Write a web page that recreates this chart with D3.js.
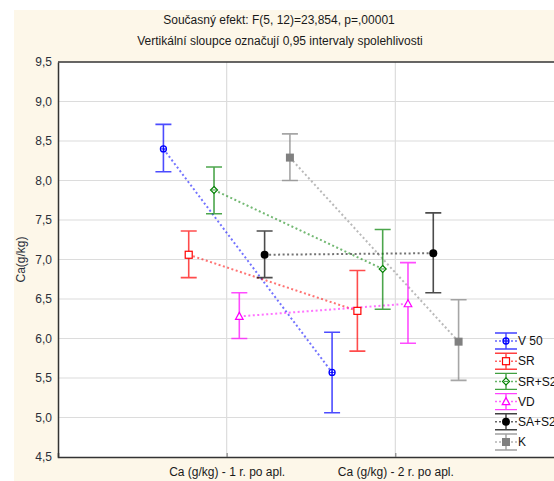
<!DOCTYPE html>
<html>
<head>
<meta charset="utf-8">
<script src="https://cdn.jsdelivr.net/npm/d3@7"></script>
<style>
  html, body { margin: 0; padding: 0; background: #ffffff; }
  svg { display: block; font-family: "Liberation Sans", Arial, sans-serif; }
</style>
</head>
<body>
<svg id="chart" width="554" height="481"></svg>
<script>
// Ca content (g/kg) one and two years after application, means with 95% CI
const categories = ["Ca (g/kg) - 1 r. po apl.", "Ca (g/kg) - 2 r. po apl."];
const seriesNames = ["V 50", "SR", "SR+S2", "VD", "SA+S2", "K"];
const meanValues = [
  [8.40, 5.57],
  [7.06, 6.35],
  [7.88, 6.88],
  [6.28, 6.44],
  [7.06, 7.08],
  [8.29, 5.96]
];
const lowerValues = [
  [8.11, 5.06],
  [6.77, 5.84],
  [7.58, 6.37],
  [6.00, 5.94],
  [6.77, 6.58],
  [8.00, 5.47]
];
const upperValues = [
  [8.71, 6.08],
  [7.36, 6.86],
  [8.17, 7.38],
  [6.58, 6.96],
  [7.36, 7.59],
  [8.59, 6.49]
];
const yTicks = [4.5, 5.0, 5.5, 6.0, 6.5, 7.0, 7.5, 8.0, 8.5, 9.0, 9.5];
const titleLines = [
  "Současný efekt: F(5, 12)=23,854, p=,00001",
  "Vertikální sloupce označují 0,95 intervaly spolehlivosti"
];
const yTitle = "Ca(g/kg)";

const colors = ["#0000ff", "#ff0000", "#008000", "#ff00ff", "#000000", "#808080"];
const markerTypes = ["circleCross", "square", "diamond", "triangle", "dot", "filledSquare"];

const svg = d3.select("#chart");
const fmt = v => d3.format(".1f")(v).replace(".", ",");

// frame background
svg.append("rect").attr("x", 14).attr("y", 10).attr("width", 540).attr("height", 471)
  .attr("fill", "#fdf7e9");

const plot = { left: 58, right: 564, top: 62, bottom: 457 };
svg.append("rect").attr("x", plot.left).attr("y", plot.top)
  .attr("width", plot.right - plot.left).attr("height", plot.bottom - plot.top)
  .attr("fill", "#ffffff");

const x = d3.scalePoint().domain(categories).range([plot.left, plot.right]).padding(1);
const y = d3.scaleLinear().domain([4.5, 9.5]).range([plot.bottom, plot.top]);
const step = 25.3;
const xPos = (si, ci) => x(categories[ci]) + (si - 2.5) * step;

// grid
svg.append("g").selectAll("line").data(yTicks.slice(1, -1)).join("line")
  .attr("x1", plot.left).attr("x2", plot.right)
  .attr("y1", d => y(d)).attr("y2", d => y(d))
  .attr("stroke", "#dcdcdc").attr("stroke-width", 1.2);
svg.append("g").selectAll("line").data(categories).join("line")
  .attr("x1", d => x(d)).attr("x2", d => x(d))
  .attr("y1", plot.top).attr("y2", plot.bottom)
  .attr("stroke", "#dcdcdc").attr("stroke-width", 1.2);

// axes
const yAxis = svg.append("g").attr("transform", `translate(${plot.left},0)`)
  .call(d3.axisLeft(y).tickValues(yTicks).tickFormat(fmt).tickSize(0).tickPadding(6));
yAxis.select(".domain").attr("stroke", "#333").attr("stroke-width", 1.5);
yAxis.selectAll("text").attr("font-size", 12).attr("fill", "#2a2f3a")
  .attr("font-family", "Liberation Sans, Arial, sans-serif");

const xAxis = svg.append("g").attr("transform", `translate(0,${plot.bottom})`)
  .call(d3.axisBottom(x).tickSize(-4).tickPadding(10));
xAxis.select(".domain").attr("stroke", "#333").attr("stroke-width", 1.5);
xAxis.selectAll(".tick line").attr("stroke", "#777");
xAxis.selectAll("text").attr("font-size", 12).attr("fill", "#1a1a1a")
  .attr("font-family", "Liberation Sans, Arial, sans-serif");

svg.append("line").attr("x1", plot.left).attr("x2", plot.right)
  .attr("y1", plot.top).attr("y2", plot.top).attr("stroke", "#333").attr("stroke-width", 1.5);

// titles
svg.append("text").attr("x", 279).attr("y", 24).attr("text-anchor", "middle")
  .attr("font-size", 12).attr("fill", "#1a1a1a").text(titleLines[0]);
svg.append("text").attr("x", 280).attr("y", 45).attr("text-anchor", "middle")
  .attr("font-size", 12).attr("fill", "#1a1a1a").text(titleLines[1]);
svg.append("text").attr("transform", `translate(25,${(plot.top + plot.bottom) / 2}) rotate(-90)`)
  .attr("text-anchor", "middle").attr("font-size", 12).attr("fill", "#2a2f3a").text(yTitle);

function drawMarker(g, type, color, cx, cy) {
  if (type === "circleCross") {
    g.append("circle").attr("cx", cx).attr("cy", cy).attr("r", 3)
      .attr("fill", "none").attr("stroke", color).attr("stroke-width", 1.3);
    g.append("path").attr("d", `M${cx - 3},${cy}H${cx + 3}M${cx},${cy - 3}V${cy + 3}`)
      .attr("stroke", color).attr("stroke-width", 0.8);
  } else if (type === "square") {
    g.append("rect").attr("x", cx - 3.5).attr("y", cy - 3.5).attr("width", 7).attr("height", 7)
      .attr("fill", "#fff").attr("stroke", color).attr("stroke-width", 1.2);
  } else if (type === "diamond") {
    g.append("path").attr("d", `M${cx},${cy - 3.5}L${cx + 3.5},${cy}L${cx},${cy + 3.5}L${cx - 3.5},${cy}Z`)
      .attr("fill", "#fff").attr("stroke", color).attr("stroke-width", 1.2);
    g.append("path").attr("d", `M${cx - 2},${cy}H${cx + 2}`).attr("stroke", color).attr("stroke-width", 0.8);
  } else if (type === "triangle") {
    g.append("path").attr("d", `M${cx},${cy - 4}L${cx + 3.8},${cy + 3}L${cx - 3.8},${cy + 3}Z`)
      .attr("fill", "#fff").attr("stroke", color).attr("stroke-width", 1.2);
  } else if (type === "dot") {
    g.append("circle").attr("cx", cx).attr("cy", cy).attr("r", 4).attr("fill", color);
  } else if (type === "filledSquare") {
    g.append("rect").attr("x", cx - 4).attr("y", cy - 4).attr("width", 8).attr("height", 8)
      .attr("fill", color);
  }
}

// connecting dotted lines
seriesNames.forEach((name, si) => {
  const line = d3.line().x((d, ci) => xPos(si, ci)).y(d => y(d));
  svg.append("path").datum(meanValues[si]).attr("d", line)
    .attr("fill", "none").attr("stroke", colors[si]).attr("stroke-opacity", 0.55)
    .attr("stroke-width", 2).attr("stroke-dasharray", "2,2.5");
});

// error bars and markers
seriesNames.forEach((name, si) => {
  const g = svg.append("g");
  categories.forEach((c, ci) => {
    const cx = xPos(si, ci);
    const yl = y(lowerValues[si][ci]), yu = y(upperValues[si][ci]);
    g.append("path")
      .attr("d", `M${cx},${yu}V${yl}M${cx - 8},${yu}H${cx + 8}M${cx - 8},${yl}H${cx + 8}`)
      .attr("fill", "none").attr("stroke", colors[si]).attr("stroke-opacity", 0.7)
      .attr("stroke-width", 1.6);
    drawMarker(g, markerTypes[si], colors[si], cx, y(meanValues[si][ci]));
  });
});

// legend (runs off the right edge of the panel)
const legendX = 506, legendY0 = 341, legendStep = 20.2;
seriesNames.forEach((name, si) => {
  const cy = legendY0 + si * legendStep;
  const g = svg.append("g");
  g.append("path").attr("d", `M${legendX - 11},${cy}H${legendX + 11}`)
    .attr("stroke", colors[si]).attr("stroke-opacity", 0.6).attr("stroke-width", 1.5)
    .attr("stroke-dasharray", "2,2");
  g.append("path")
    .attr("d", `M${legendX},${cy - 8}V${cy + 8}M${legendX - 11},${cy - 8}H${legendX + 11}M${legendX - 11},${cy + 8}H${legendX + 11}`)
    .attr("fill", "none").attr("stroke", colors[si]).attr("stroke-opacity", 0.75).attr("stroke-width", 1.4);
  drawMarker(g, markerTypes[si], colors[si], legendX, cy);
  g.append("text").attr("x", legendX + 12).attr("y", cy).attr("dy", "0.35em")
    .attr("font-size", 12).attr("fill", "#111").text(name);
});
</script>
</body>
</html>
